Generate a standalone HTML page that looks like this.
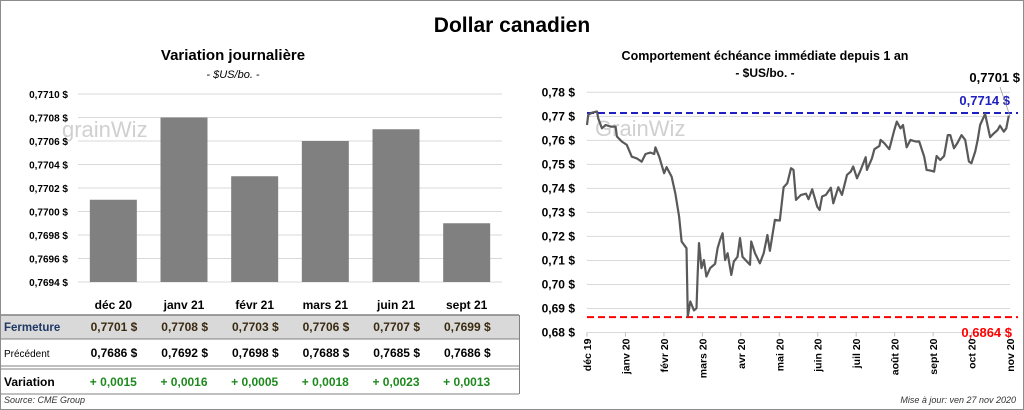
<!DOCTYPE html>
<html><head><meta charset="utf-8"><style>
body{margin:0;background:#fff;font-family:"Liberation Sans",sans-serif}
svg{display:block}
text{font-family:"Liberation Sans",sans-serif}
</style></head><body>
<svg id="c" width="1024" height="410" viewBox="0 0 1024 410">
<rect x="0.5" y="0.5" width="1023" height="409" fill="#fff" stroke="#8c8c8c"/>
<text x="512" y="32" text-anchor="middle" font-size="21" font-weight="bold">Dollar canadien</text>
<text x="233" y="60" text-anchor="middle" font-size="15" font-weight="bold">Variation  journalière</text>
<text x="233" y="78" text-anchor="middle" font-size="11" font-style="italic">- $US/bo. -</text>
<text x="765" y="60" text-anchor="middle" font-size="12.5" font-weight="bold">Comportement échéance immédiate depuis 1 an</text>
<text x="765" y="77" text-anchor="middle" font-size="12" font-weight="bold">- $US/bo. -</text>
<text x="62" y="137" font-size="22" fill="#d0d0d0">grainWiz</text>
<text x="595" y="136" font-size="22" fill="#d0d0d0">GrainWiz</text>
<g id="left"></g>
<g id="right"></g>
<g id="table"></g>
<text x="4" y="403" font-size="9" font-style="italic" fill="#333">Source: CME Group</text>
<text x="1016" y="403" text-anchor="end" font-size="9" font-style="italic" fill="#333">Mise à jour: ven 27 nov 2020</text>
</svg>
<script>
const months = ["déc 20","janv 21","févr 21","mars 21","juin 21","sept 21"];
const closes = [0.7701,0.7708,0.7703,0.7706,0.7707,0.7699];
const prevs = [0.7686,0.7692,0.7698,0.7688,0.7685,0.7686];
const changes = [0.0015,0.0016,0.0005,0.0018,0.0023,0.0013];
const leftTicks = [0.7694,0.7696,0.7698,0.7700,0.7702,0.7704,0.7706,0.7708,0.7710];

const lineDays = [0,1,4,8,9,12,15,19,23,24,28,32,36,40,44,47,51,54,55,58,62,64,68,71,74,76,80,81,83,86,88,89,90,92,94,96,99,103,105,107,109,111,113,116,118,121,123,125,127,131,132,135,139,142,145,147,151,155,158,161,164,166,168,172,176,178,181,185,187,189,192,196,198,202,205,209,212,214,217,220,224,225,229,231,235,236,239,243,247,249,252,254,257,260,264,267,271,273,276,279,281,284,287,290,292,295,298,301,304,307,309,312,314,316,320,324,327,330,332,335,337,339];
const lineValues = [.7664,.7706,.7715,.7720,.7692,.7650,.7664,.7657,.7657,.7616,.7595,.7581,.7532,.7525,.7511,.7543,.7549,.7543,.7571,.7532,.7463,.7488,.7449,.7380,.7283,.7179,.7151,.6867,.6929,.6892,.6901,.7047,.7172,.7068,.7102,.7033,.7068,.7086,.7151,.7186,.7213,.7102,.7130,.7040,.7095,.7115,.7193,.7115,.7104,.7082,.7179,.7130,.7088,.7130,.7206,.7140,.7269,.7266,.7405,.7421,.7484,.7477,.7352,.7373,.7378,.7355,.7396,.7324,.7310,.7366,.7373,.7403,.7338,.7405,.7373,.7456,.7470,.7491,.7442,.7477,.7530,.7477,.7525,.7563,.7577,.7602,.7588,.7563,.7643,.7678,.7650,.7664,.7571,.7602,.7595,.7595,.7532,.7477,.7474,.7470,.7535,.7518,.7535,.7622,.7622,.7567,.7591,.7622,.7602,.7512,.7505,.7553,.7602,.7664,.7710,.7613,.7629,.7643,.7661,.7636,.7650,.7703];
const rightTicks = [0.68,0.69,0.70,0.71,0.72,0.73,0.74,0.75,0.76,0.77,0.78];
const monthLabels = ["déc 19","janv 20","févr 20","mars 20","avr 20","mai 20","juin 20","juil 20","août 20","sept 20","oct 20","nov 20"];
const highVal = 0.7714, lowVal = 0.6864, lastVal = 0.7701;

const NS="http://www.w3.org/2000/svg";
function mk(parent,tag,attrs,txt){const e=document.createElementNS(NS,tag);for(const k in attrs)e.setAttribute(k,attrs[k]);if(txt!==undefined)e.textContent=txt;parent.appendChild(e);return e;}
const fmt4=v=>v.toFixed(4).replace('.',',');
const fmt2=v=>v.toFixed(2).replace('.',',');

// left bar chart
const L=document.getElementById('left');
const lx0=78,lx1=502,ly0=282,ly1=94,lmin=0.7694,lmax=0.7710;
const ly=v=>ly0-(v-lmin)/(lmax-lmin)*(ly0-ly1);
const cw=(lx1-lx0)/months.length;
const lxc=i=>lx0+cw*(i+0.5);
leftTicks.forEach(t=>{
  const g=mk(L,'line',{x1:lx0,x2:lx1,y1:ly(t),y2:ly(t),stroke:'#d9d9d9','stroke-width':1});
  
  
  const tx=mk(L,'text',{x:68,y:ly(t)+4,'text-anchor':'end','font-size':10,'font-weight':'bold'},fmt4(t)+' $');
  
  
});
closes.forEach((v,i)=>{
  const r=mk(L,'rect',{x:lxc(i)-23.5,y:ly(v),width:47,height:ly0-ly(v),fill:'#808080'});
  
  
});

// table
const T=document.getElementById('table');
const cols=months.map((m,i)=>lxc(i));
mk(T,'rect',{x:1,y:315,width:518,height:24,fill:'#d9d9d9'});
mk(T,'line',{x1:1,x2:519,y1:315,y2:315,stroke:'#808080','stroke-width':1.5});
mk(T,'line',{x1:1,x2:519,y1:339,y2:339,stroke:'#808080','stroke-width':1});
mk(T,'line',{x1:1,x2:519,y1:366,y2:366,stroke:'#808080','stroke-width':1});
mk(T,'line',{x1:1,x2:519,y1:369,y2:369,stroke:'#808080','stroke-width':1});
mk(T,'line',{x1:1,x2:519,y1:394,y2:394,stroke:'#808080','stroke-width':1});
mk(T,'line',{x1:519.5,x2:519.5,y1:315,y2:394,stroke:'#808080','stroke-width':1});
months.forEach((m,i)=>{
  const t=mk(T,'text',{x:cols[i],y:309,'text-anchor':'middle','font-size':12,'font-weight':'bold'},m);
  
  
});
const r1=mk(T,'text',{x:4,y:331,'font-size':11.5,'font-weight':'bold',fill:'#1f3864'},'Fermeture');

const r2=mk(T,'text',{x:4,y:357,'font-size':10},'Précédent');

const r3=mk(T,'text',{x:4,y:386,'font-size':12,'font-weight':'bold'},'Variation');

closes.forEach((v,i)=>{
  const t=mk(T,'text',{x:cols[i]+24,y:331,'text-anchor':'end','font-size':12,'font-weight':'bold',fill:'#3a2a10'},fmt4(v)+'  $');
  
});
prevs.forEach((v,i)=>{
  const t=mk(T,'text',{x:cols[i]+24,y:357,'text-anchor':'end','font-size':12,'font-weight':'bold'},fmt4(v)+'  $');
  
});
changes.forEach((v,i)=>{
  const t=mk(T,'text',{x:cols[i],y:386,'text-anchor':'middle','font-size':12,'font-weight':'bold',fill:'#1e8a1e'},'+ '+fmt4(v));
  
});

// right line chart
const R=document.getElementById('right');
const rx0=587,rx1=1010,ry0=332.5,ry1=92.3,rmin=0.68,rmax=0.78,dmax=340;
const rx=d=>rx0+d/dmax*(rx1-rx0);
const ry=v=>ry0-(v-rmin)/(rmax-rmin)*(ry0-ry1);
rightTicks.forEach(t=>{
  const g=mk(R,'line',{x1:rx0,x2:rx1,y1:ry(t),y2:ry(t),stroke:'#d9d9d9','stroke-width':1});
  
  const tx=mk(R,'text',{x:575,y:ry(t)+4,'text-anchor':'end','font-size':12,'font-weight':'bold'},fmt2(t)+' $');
  
});
const step=(rx1-rx0)/(monthLabels.length-1);
monthLabels.forEach((m,i)=>{
  const x=rx0+i*step;
  mk(R,'line',{x1:x,x2:x,y1:ry0,y2:ry0+4,stroke:'#bfbfbf'});
  const t=mk(R,'text',{x:0,y:0,'text-anchor':'end','font-size':10.5,'font-weight':'bold',transform:`translate(${x+4},${ry0+6}) rotate(-90)`},m);
  
});
const hl=mk(R,'line',{x1:rx0,x2:1018,y1:ry(highVal),y2:ry(highVal),stroke:'#2020c0','stroke-width':2,'stroke-dasharray':'7,4'});

const ll=mk(R,'line',{x1:rx0,x2:1018,y1:ry(lowVal),y2:ry(lowVal),stroke:'#ff0000','stroke-width':2,'stroke-dasharray':'7,4'});

const pts=lineDays.map((d,i)=>rx(d).toFixed(1)+','+ry(lineValues[i]).toFixed(1)).join(' ');
const pl=mk(R,'polyline',{points:pts,fill:'none',stroke:'#595959','stroke-width':2.2,'stroke-linejoin':'round'});

const ht=mk(R,'text',{x:1010,y:ry(highVal)-8,'text-anchor':'end','font-size':13,'font-weight':'bold',fill:'#2020c0'},fmt4(highVal)+' $');

const lt=mk(R,'text',{x:1012,y:ry(lowVal)+20,'text-anchor':'end','font-size':13,'font-weight':'bold',fill:'#ff0000'},fmt4(lowVal)+' $');

const lst=mk(R,'text',{x:1020,y:82,'text-anchor':'end','font-size':13,'font-weight':'bold'},fmt4(lastVal)+' $');

mk(R,'line',{x1:1000,y1:87,x2:1010,y2:ry(lastVal),stroke:'#a0a0a0','stroke-width':0.8});
</script>
</body></html>
